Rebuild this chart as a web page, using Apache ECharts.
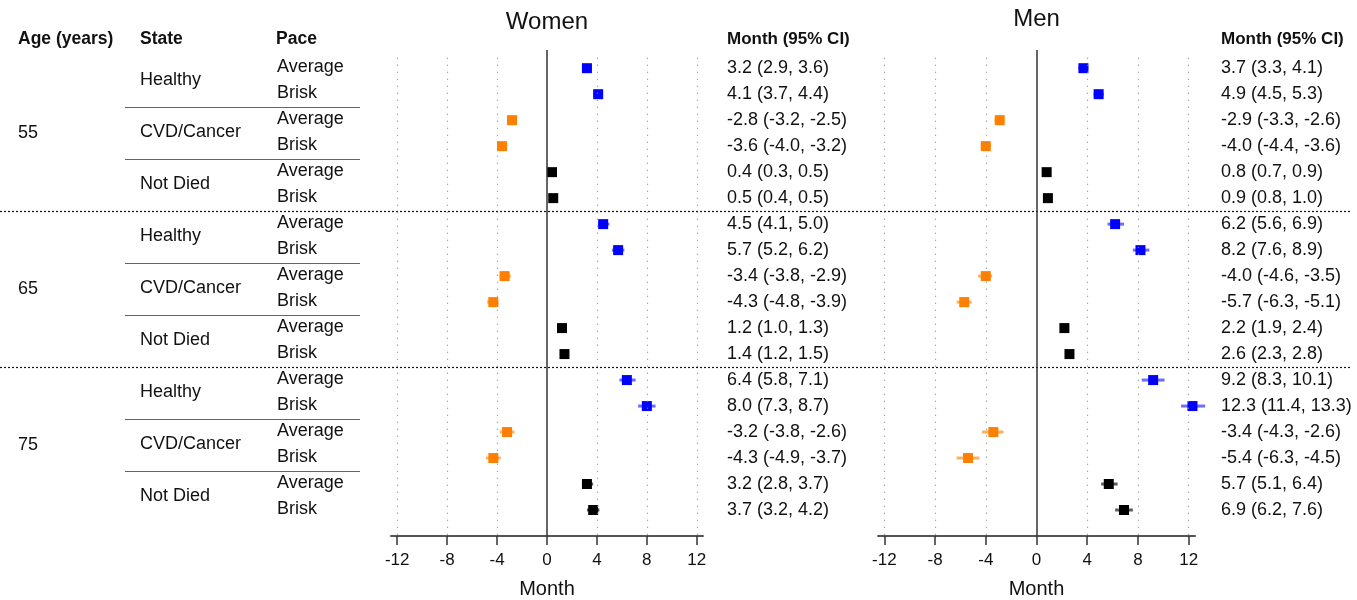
<!DOCTYPE html>
<html>
<head>
<meta charset="utf-8">
<script src="https://cdn.jsdelivr.net/npm/echarts@6/dist/echarts.min.js"></script>
<style>
  html, body { margin: 0; padding: 0; background: #fff; }
  #forest { width: 1357px; height: 600px; }
</style>
</head>
<body>
<div id="forest"></div>
<script>
  var ages = ['55', '65', '75']
  var states = ['Healthy', 'CVD/Cancer', 'Not Died']
  var paces = ['Average', 'Brisk']
  var xTicks = [-12, -8, -4, 0, 4, 8, 12]

  var womenEst  = [3.2, 4.1, -2.8, -3.6, 0.4, 0.5,  4.5, 5.7, -3.4, -4.3, 1.2, 1.4,  6.4, 8.0, -3.2, -4.3, 3.2, 3.7]
  var womenLow  = [2.9, 3.7, -3.2, -4.0, 0.3, 0.4,  4.1, 5.2, -3.8, -4.8, 1.0, 1.2,  5.8, 7.3, -3.8, -4.9, 2.8, 3.2]
  var womenHigh = [3.6, 4.4, -2.5, -3.2, 0.5, 0.5,  5.0, 6.2, -2.9, -3.9, 1.3, 1.5,  7.1, 8.7, -2.6, -3.7, 3.7, 4.2]

  var menEst  = [3.7, 4.9, -2.9, -4.0, 0.8, 0.9,  6.2, 8.2, -4.0, -5.7, 2.2, 2.6,  9.2, 12.3, -3.4, -5.4, 5.7, 6.9]
  var menLow  = [3.3, 4.5, -3.3, -4.4, 0.7, 0.8,  5.6, 7.6, -4.6, -6.3, 1.9, 2.3,  8.3, 11.4, -4.3, -6.3, 5.1, 6.2]
  var menHigh = [4.1, 5.3, -2.6, -3.6, 0.9, 1.0,  6.9, 8.9, -3.5, -5.1, 2.4, 2.8, 10.1, 13.3, -2.6, -4.5, 6.4, 7.6]

  var stateColors = ['#0000ff', '#ff7f00', '#000000']
  var barColors = ['rgba(60,60,255,0.75)', 'rgba(255,150,40,0.75)', 'rgba(40,40,40,0.75)']
  var FONT = '"Liberation Sans", Arial, sans-serif'

  var nRows = ages.length * states.length * paces.length
  function stateOf (row) { return Math.floor(row / paces.length) % states.length }

  var chart = echarts.init(document.getElementById('forest'), null, { renderer: 'canvas' })

  function makeX (idx) {
    return {
      gridIndex: idx,
      type: 'value',
      min: -12.5,
      max: 12.5,
      axisLine: { show: true, onZero: false, lineStyle: { color: '#555', width: 2 } },
      axisTick: { show: true, customValues: xTicks, length: 9, lineStyle: { color: '#333', width: 1.5 } },
      axisLabel: { show: true, customValues: xTicks, margin: 16, color: '#111', fontSize: 17, fontFamily: FONT },
      splitLine: { show: false },
      name: 'Month',
      nameLocation: 'middle',
      nameGap: 43,
      nameTextStyle: { color: '#111', fontSize: 20, fontFamily: FONT }
    }
  }
  function makeY (idx) {
    return { gridIndex: idx, type: 'value', inverse: true, min: -0.7, max: 18, show: false }
  }

  function buildSeries (idx, est, low, high) {
    var points = est.map(function (v, i) { return [v, i] })
    var bars = est.map(function (v, i) { return [low[i], high[i], i] })
    var gridLines = xTicks.filter(function (t) { return t !== 0 }).map(function (t) {
      return [{ coord: [t, -0.4] }, { coord: [t, 18] }]
    })
    return [
      {
        type: 'custom',
        xAxisIndex: idx,
        yAxisIndex: idx,
        data: bars,
        encode: { x: [0, 1], y: 2 },
        renderItem: function (params, api) {
          var p1 = api.coord([api.value(0), api.value(2)])
          var p2 = api.coord([api.value(1), api.value(2)])
          return {
            type: 'line',
            shape: { x1: p1[0], y1: p1[1], x2: p2[0], y2: p2[1] },
            style: { stroke: barColors[stateOf(params.dataIndex)], lineWidth: 3 }
          }
        },
        z: 3,
        silent: true,
        markLine: {
          silent: true,
          symbol: 'none',
          label: { show: false },
          lineStyle: { type: [1, 6], color: '#888', width: 1.2 },
          data: gridLines
        }
      },
      {
        type: 'scatter',
        xAxisIndex: idx,
        yAxisIndex: idx,
        data: points,
        symbol: 'rect',
        symbolSize: 10,
        itemStyle: {
          opacity: 1,
          color: function (p) { return stateColors[stateOf(p.dataIndex)] }
        },
        z: 4,
        silent: true,
        markLine: {
          silent: true,
          symbol: 'none',
          label: { show: false },
          lineStyle: { type: 'solid', color: '#333', width: 1.5 },
          data: [{ xAxis: 0 }]
        }
      }
    ]
  }

  chart.setOption({
    backgroundColor: '#fff',
    animation: false,
    grid: [
      { left: 391, width: 312, top: 50, height: 486, containLabel: false, outerBoundsMode: 'none' },
      { left: 878, width: 317, top: 50, height: 486, containLabel: false, outerBoundsMode: 'none' }
    ],
    xAxis: [makeX(0), makeX(1)],
    yAxis: [makeY(0), makeY(1)],
    series: buildSeries(0, womenEst, womenLow, womenHigh).concat(buildSeries(1, menEst, menLow, menHigh))
  })

  // table text and separators, placed on the y scale of the plots
  function rowY (r) { return chart.convertToPixel({ yAxisIndex: 0 }, r) }
  function ciText (e, l, h, i) {
    return e[i].toFixed(1) + ' (' + l[i].toFixed(1) + ', ' + h[i].toFixed(1) + ')'
  }
  function txt (x, y, s, opt) {
    opt = opt || {}
    return {
      type: 'text', x: x, y: y, silent: true,
      style: {
        text: s, fill: '#111', fontSize: opt.size || 18, fontWeight: opt.bold ? 'bold' : 'normal',
        fontFamily: FONT, align: opt.align || 'left', verticalAlign: 'middle'
      }
    }
  }

  var graphics = []
  var headY = 39
  graphics.push(txt(18, headY, 'Age (years)', { bold: true, size: 17.5 }))
  graphics.push(txt(140, headY, 'State', { bold: true, size: 17.5 }))
  graphics.push(txt(276, headY, 'Pace', { bold: true, size: 17.5 }))
  graphics.push(txt(727, headY, 'Month (95% CI)', { bold: true, size: 17 }))
  graphics.push(txt(1221, headY, 'Month (95% CI)', { bold: true, size: 17 }))

  var zeroW = chart.convertToPixel({ xAxisIndex: 0 }, 0)
  var zeroM = chart.convertToPixel({ xAxisIndex: 1 }, 0)
  graphics.push(txt(zeroW, 22, 'Women', { size: 24, align: 'center' }))
  graphics.push(txt(zeroM, 19, 'Men', { size: 24, align: 'center' }))

  var perAge = states.length * paces.length
  ages.forEach(function (a, ai) {
    var base = ai * perAge
    graphics.push(txt(18, rowY(base + (perAge - 1) / 2), a))
    states.forEach(function (s, si) {
      var sb = base + si * paces.length
      graphics.push(txt(140, rowY(sb + 0.5) - 1, s))
      if (si > 0) {
        var ly = Math.round(rowY(sb - 0.5)) + 0.5
        graphics.push({ type: 'line', silent: true, shape: { x1: 125, y1: ly, x2: 360, y2: ly }, style: { stroke: '#666', lineWidth: 1.2 } })
      }
    })
    if (ai > 0) {
      var dy = Math.round(rowY(base - 0.5)) + 0.5
      graphics.push({ type: 'line', silent: true, shape: { x1: 0, y1: dy, x2: 1352, y2: dy }, style: { stroke: '#111', lineWidth: 1.2, lineDash: [2, 2] } })
    }
  })

  for (var i = 0; i < nRows; i++) {
    var y = rowY(i)
    graphics.push(txt(277, y - 1, paces[i % paces.length]))
    graphics.push(txt(727, y, ciText(womenEst, womenLow, womenHigh, i)))
    graphics.push(txt(1221, y, ciText(menEst, menLow, menHigh, i)))
  }

  chart.setOption({ graphic: graphics })
</script>
</body>
</html>
